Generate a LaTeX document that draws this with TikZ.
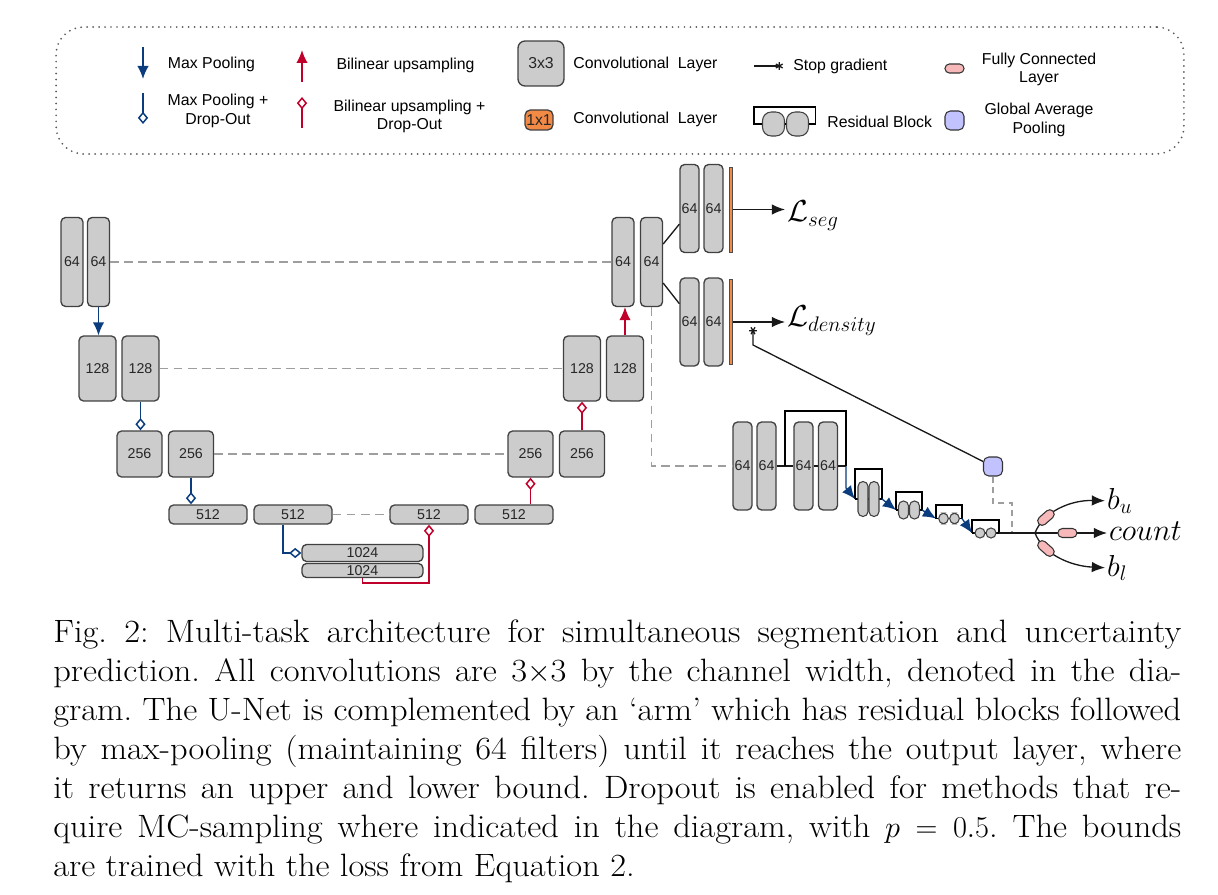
\documentclass[tikz,border=0pt]{standalone}
\usepackage{fontspec}
\usepackage{tikz}
\usetikzlibrary{arrows.meta,positioning,calc}
\newfontfamily\diagsf{Liberation Sans}
\newfontfamily\capfont[Ligatures=TeX,FakeStretch=1.065]{Latin Modern Roman}
\newcommand\blklbl{\diagsf\fontsize{8.1}{9}\selectfont}
\newcommand\lgfont{\diagsf\fontsize{9}{10.6}\selectfont}
\newcommand\outfont{\fontsize{17.5}{20}\selectfont}
\definecolor{poolblue}{HTML}{0B3C7D}
\definecolor{upred}{HTML}{C0002A}
\definecolor{convgray}{HTML}{CCCCCC}
\definecolor{convone}{HTML}{F28A45}
\definecolor{fcpink}{HTML}{F6B8B8}
\definecolor{gaplav}{HTML}{C2C2FF}

\begin{document}
\begin{tikzpicture}
[x=0.02cm, y=-0.02cm,
blk/.style={draw=black!75, fill=convgray, rounded corners=2.6pt, line width=.75pt, inner sep=0pt, text=black!85, font=\blklbl},
b64/.style={blk, minimum width=.44cm, minimum height=1.78cm},
b128/.style={blk, minimum width=.74cm, minimum height=1.3cm},
b256/.style={blk, minimum width=.9cm, minimum height=.92cm},
b512/.style={blk, minimum width=1.56cm, minimum height=.38cm},
b1024/.style={blk, minimum width=2.42cm},
n64/.style={blk, minimum width=.38cm, minimum height=1.76cm},
onebar/.style={draw=black!70, fill=convone, line width=.4pt, inner sep=0pt, minimum width=.07cm, minimum height=1.7cm},
rb/.style={draw=black!75, fill=convgray, line width=.6pt, rounded corners=2.8pt, inner sep=0pt},
fc/.style={draw=black!80, fill=fcpink, line width=.6pt, rounded corners=2.5pt, inner sep=0pt, minimum width=.38cm, minimum height=.18cm},
gapool/.style={draw=black!80, fill=gaplav, line width=.6pt, rounded corners=3pt, inner sep=0pt, minimum size=.38cm},
lgbox/.style={draw=black!65, line width=1.1pt, line cap=round, dash pattern=on 0pt off 3.4pt, rounded corners=.55cm, minimum width=22.56cm, minimum height=2.54cm},
lgtxt/.style={inner sep=0pt, align=center, font=\lgfont},
conn/.style={black!90, line width=.75pt},
resb/.style={black, line width=.65pt},
skipc/.style={black!38, line width=.8pt, dash pattern=on 5pt off 3pt},
pool/.style={poolblue, line width=.85pt, -{Latex[length=7.4pt,width=6.5pt]}},
poold/.style={poolblue, line width=.85pt, -{Diamond[open,length=7pt,width=5.8pt]}},
poola/.style={poolblue, line width=.75pt, -{Latex[length=7.5pt,width=6.5pt]}},
upsm/.style={upred, line width=.85pt, -{Latex[length=7.4pt,width=6.5pt]}},
upsmd/.style={upred, line width=.85pt, -{Diamond[open,length=7pt,width=5.8pt]}},
stopg/.style={conn, -{Rays[n=6,length=4.5pt,width=4.5pt]}},
outa/.style={conn, -{Latex[length=7.5pt,width=6pt]}},
outtxt/.style={inner sep=1pt, font=\outfont}]
\useasboundingbox (0,0) rectangle (1218,895);

\node[lgbox] (legend) at (620,90.5) {};
\coordinate (lmpa) at (143,47);
\coordinate (lmpb) at (143,79);
\coordinate (lmda) at (143,93);
\coordinate (lmdb) at (143,124);
\coordinate (lupa) at (302,82);
\coordinate (lupb) at (302,50);
\coordinate (luda) at (302,128);
\coordinate (ludb) at (302,97);
\coordinate (lsga) at (754,66);
\coordinate (lsgb) at (783,66);
\draw[pool] (lmpa) -- (lmpb);
\draw[poold] (lmda) -- (lmdb);
\draw[upsm] (lupa) -- (lupb);
\draw[upsmd] (luda) -- (ludb);
\draw[stopg] (lsga) -- (lsgb);
\node[lgtxt] (tmp) at (211.5,64) {Max Pooling};
\node[lgtxt, font=\diagsf\fontsize{9}{10.8}\selectfont] (tmpd) at (218,110.5) {Max Pooling +\\Drop-Out};
\node[lgtxt] (tup) at (405.5,65) {Bilinear upsampling};
\node[lgtxt, font=\diagsf\fontsize{9}{10.2}\selectfont] (tupd) at (409.5,116) {Bilinear upsampling +\\Drop-Out};
\node[blk, font=\lgfont, rounded corners=4pt, minimum width=.92cm, minimum height=.9cm] (l3x3) at (541,63.5) {3x3};
\node[blk, fill=convone, font=\lgfont, rounded corners=3pt, minimum width=.56cm, minimum height=.4cm] (l1x1) at (539,120) {1x1};
\node[lgtxt, anchor=west] (tconv) at (573,64) {Convolutional~~Layer};
\node[lgtxt, anchor=west] (tconvb) at (573,119) {Convolutional~~Layer};
\node[lgtxt, anchor=west] (tsg) at (793,66) {Stop gradient};
\node[rb, rounded corners=5pt, minimum width=.44cm, minimum height=.48cm] (lra) at (773.5,124) {};
\node[rb, rounded corners=5pt, minimum width=.44cm, minimum height=.48cm] (lrb) at (797.5,124) {};
\draw[resb] (lra.west) -- ++(-8,0) -- ++(0,-17) -| ([xshift=.13cm]lrb.east) -- (lrb.east);
\draw[resb] (lra.east) -- (lrb.west);
\node[lgtxt, anchor=west] (trb) at (827,122) {Residual Block};
\node[fc] (lfc) at (954.5,68.5) {};
\node[gapool] (lgap) at (954.5,120.5) {};
\node[lgtxt, font=\diagsf\fontsize{9}{10.2}\selectfont] (tfc) at (1039,69) {Fully Connected\\Layer};
\node[lgtxt, font=\diagsf\fontsize{9}{10.8}\selectfont] (tgap) at (1039,119.5) {Global Average\\Pooling};

\node[b64] (d64a) at (72,262) {64};
\node[b64] (d64b) at (98.5,262) {64};
\node[b128] (d128a) at (97.5,368.5) {128};
\node[b128] (d128b) at (140.5,368.5) {128};
\node[b256] (d256a) at (139.5,454) {256};
\node[b256] (d256b) at (191,454) {256};
\node[b512] (d512a) at (208,514.5) {512};
\node[b512] (d512b) at (293,514.5) {512};
\node[b1024, minimum height=.34cm] (c1024a) at (362.5,553) {1024};
\node[b1024, minimum height=.28cm] (c1024b) at (362.5,570.5) {1024};
\node[b512] (r512a) at (429,514.5) {512};
\node[b512] (r512b) at (514,514.5) {512};
\node[b256] (r256a) at (530.5,454) {256};
\node[b256] (r256b) at (582,454) {256};
\node[b128] (r128a) at (582,368.5) {128};
\node[b128] (r128b) at (625,368.5) {128};
\node[b64] (u64a) at (623,262) {64};
\node[b64] (u64b) at (651.5,262) {64};

\draw[skipc] (d64b.east) -- (u64a.west);
\draw[skipc] (d128b.east) -- (r128a.west);
\draw[skipc] (d256b.east) -- (r256a.west);
\draw[skipc] (d512b.east) -- (r512a.west);
\draw[pool] (d64b.south) -- (d64b.south |- d128a.north);
\draw[poold] (d128b.south) -- (d128b.south |- d256a.north);
\draw[poold] (d256b.south) -- (d256b.south |- d512a.north);
\draw[poold] ([xshift=-.2cm]d512b.south) |- (c1024a.west);
\draw[upsmd] (c1024b.south) -- ++(0,5) -| (r512a.south);
\draw[upsmd] (r256a.south |- r512b.north) -- (r256a.south);
\draw[upsmd] (r256b.north) -- (r256b.north |- r128a.south);
\draw[upsm] (r128b.north) -- (r128b.north |- u64a.south);

\node[n64] (s64a) at (689.5,208.5) {64};
\node[n64] (s64b) at (713.5,208.5) {64};
\node[onebar] (s1x1) at (731,209.5) {};
\node[n64] (t64a) at (689.5,322) {64};
\node[n64] (t64b) at (713.5,322) {64};
\node[onebar] (t1x1) at (731,322) {};
\node[outtxt, anchor=base west] (lseg) at (785,222) {$\mathcal{L}_{seg}$};
\node[outtxt, anchor=base west] (lden) at (785,327) {$\mathcal{L}_{density}$};
\draw[conn] (u64b.57) -- (s64a.237);
\draw[conn] (u64b.-61) -- (t64a.119);
\draw[outa] (s1x1.east) -- (s1x1.east -| lseg.west);
\draw[outa] (t1x1.east) -- (t1x1.east -| lden.west);

\node[n64] (a64a) at (742.5,466) {64};
\node[n64] (a64b) at (766.5,466) {64};
\node[n64] (a64c) at (803.5,466) {64};
\node[n64] (a64d) at (828,466) {64};
\coordinate (rj) at ($(a64b.east)!.5!(a64c.west)$);
\coordinate (r0) at (846,466);
\draw[skipc] (u64b.south) |- (a64a.west);
\draw[conn] (a64b.east) -- (a64c.west);
\draw[conn] (a64c.east) -- (a64d.west);
\draw[conn] (a64d.east) -- (r0);
\draw[resb] (rj) -- ++(0,-55) -| (r0);

\foreach \i/\xl/\xr/\ym/\yt/\w/\h in {1/855/882/499/469/.2/.7, 2/896/922/510/492/.2/.36, 3/936/962/518.5/505/.19/.21, 4/972/999/533/520/.2/.2}
{
\coordinate (rl\i) at (\xl,\ym);
\coordinate (rr\i) at (\xr,\ym);
\draw[resb] (rl\i) -- (rr\i);
\draw[resb] (rl\i) -- ++(0,\yt-\ym) -| (rr\i);
\node[rb, minimum width=\w*1cm, minimum height=\h*1cm] (oa\i) at ({(\xl+\xr)/2-5.5},\ym) {};
\node[rb, minimum width=\w*1cm, minimum height=\h*1cm] (ob\i) at ({(\xl+\xr)/2+5.5},\ym) {};
}
\draw[poola] (r0) -- ++(0,22) -- (rl1);
\draw[poola] (rr1) -- (rl2);
\draw[poola] (rr2) -- (rl3);
\draw[poola] (rr3) -- (rl4);

\node[gapool] (gap) at (993,466.5) {};
\coordinate (sgk) at (753,345);
\coordinate (sg) at (753,327);
\coordinate (gk) at (1012,503);
\coordinate (gj) at (1012,533);
\coordinate (fk) at (1035,533);
\draw[stopg] (gap) -- (sgk) -- (sg);
\draw[skipc, dash pattern=on 3.5pt off 2.5pt] (gap.south) |- (gk) -- (gj);
\draw[conn] (rr4) -- (fk);

\node[outtxt, anchor=base west] (bu) at (1105,509) {$b_u$};
\node[outtxt, anchor=base west] (cnt) at (1107,540) {$count$};
\node[outtxt, anchor=base west] (bl) at (1105,576) {$b_l$};
\draw[outa] (fk) .. controls (1043,512) and (1070,500) .. node[fc, sloped, pos=.28] (fcu) {} (bu.west);
\draw[outa] (fk) -- node[fc, pos=.45] (fcc) {} (fk -| cnt.west);
\draw[outa] (fk) .. controls (1043,554) and (1070,566) .. node[fc, sloped, pos=.28] (fcl) {} (bl.west);

\node[anchor=north west, inner sep=0pt, text width=642pt, align=justify, font=\capfont\fontsize{18.4}{22.2}\selectfont\frenchspacing] (cap) at (53,619)
{Fig.~2: Multi-task architecture for simultaneous segmentation and uncertainty\linebreak
prediction. All convolutions are 3$\times$3 by the channel width, denoted in the dia-\linebreak
gram. The U-Net is complemented by an `arm' which has residual blocks followed\linebreak
by max-pooling (maintaining 64 filters) until it reaches the output layer, where\linebreak
it returns an upper and lower bound. Dropout is enabled for methods that re-\linebreak
quire MC-sampling where indicated in the diagram, with $p=0.5$. The bounds\linebreak
are trained with the loss from Equation 2.};
\end{tikzpicture}
\end{document}
